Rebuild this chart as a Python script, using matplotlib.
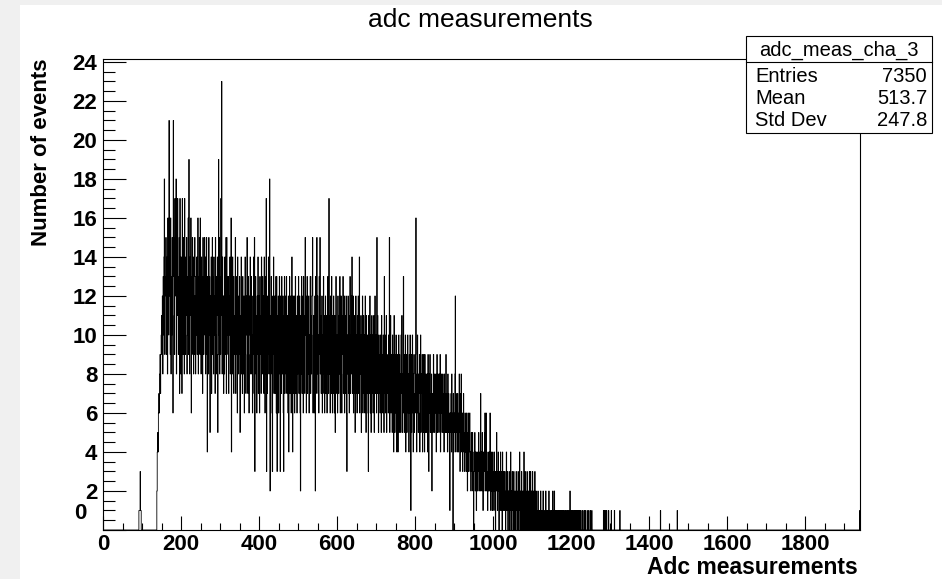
import numpy as np
import matplotlib

matplotlib.use("Agg")
import matplotlib.pyplot as plt
from matplotlib.lines import Line2D
from matplotlib.patches import Rectangle
from matplotlib.ticker import FuncFormatter, MultipleLocator

plt.rcParams["font.family"] = ["Liberation Sans", "DejaVu Sans"]
plt.rcParams["font.weight"] = "bold"

# counts per 1-unit bin (bins 90..1339)
seg_090 = [
    0, 0, 1, 1, 1, 3, 1, 1, 0, 0,
    0, 0, 0, 0, 0, 0, 0, 0, 0, 0,
    0, 0, 0, 0, 0, 0, 0, 0, 0, 0,
    0, 0, 0, 0, 0, 0, 0, 0, 0, 0,
    0, 0, 0, 0, 0, 0, 0, 0, 2, 4,
]
seg_140 = [
    5, 4, 6, 7, 6, 8, 9, 7, 9, 10,
    11, 9, 12, 8, 13, 10, 14, 18, 9, 12,
    13, 15, 9, 12, 14, 8, 16, 13, 10, 21,
    12, 14, 9, 16, 8, 13, 10, 15, 11, 6,
    21, 13, 15, 9, 17, 12, 14, 18, 8, 16,
    11, 17, 13, 9, 12, 15, 7, 17, 13, 8,
    14, 10, 7, 17, 13, 9, 15, 12, 8, 17,
    13, 9, 14, 11, 15, 8, 10, 13, 16, 9,
    19, 12, 8, 14, 11, 16, 6, 13, 9, 15,
    11, 14, 8, 12, 9, 15, 13, 8, 12, 10,
]
seg_240 = [
    14, 9, 12, 16, 8, 13, 11, 15, 9, 16,
    12, 8, 14, 10, 13, 7, 15, 11, 9, 13,
    15, 10, 14, 8, 12, 15, 9, 4, 13, 11,
    8, 15, 10, 13, 5, 12, 9, 14, 7, 12,
    15, 9, 13, 8, 14, 10, 12, 7, 15, 10,
    8, 13, 11, 14, 5, 9, 19, 10, 15, 8,
    13, 9, 17, 11, 23, 8, 14, 10, 12, 7,
    12, 8, 14, 9, 11, 15, 7, 15, 10, 13,
    9, 13, 7, 12, 10, 14, 8, 11, 16, 4,
    12, 8, 14, 10, 13, 7, 11, 9, 13, 15,
]
seg_340 = [
    7, 13, 9, 12, 6, 14, 10, 8, 12, 9,
    13, 5, 11, 9, 14, 8, 12, 7, 13, 10,
    8, 12, 6, 11, 14, 9, 7, 12, 10, 15,
    11, 7, 13, 9, 6, 12, 10, 14, 8, 11,
    13, 8, 10, 6, 12, 9, 14, 7, 15, 3,
    10, 13, 8, 11, 6, 12, 9, 14, 7, 10,
    12, 6, 13, 9, 11, 7, 14, 10, 8, 13,
    9, 12, 7, 14, 10, 6, 13, 8, 17, 3,
    11, 7, 12, 9, 14, 8, 10, 18, 2, 11,
    8, 13, 10, 6, 3, 12, 9, 14, 7, 11,
]
seg_440 = [
    12, 7, 10, 13, 6, 13, 3, 11, 8, 12,
    6, 11, 13, 8, 3, 12, 9, 7, 13, 10,
    8, 12, 6, 3, 11, 13, 7, 10, 12, 8,
    13, 7, 11, 9, 6, 12, 4, 10, 13, 7,
    9, 12, 6, 11, 14, 8, 4, 12, 7, 10,
    12, 6, 10, 13, 7, 9, 11, 6, 12, 8,
    10, 13, 7, 9, 12, 6, 2, 11, 8, 13,
    7, 10, 12, 6, 13, 9, 11, 7, 15, 10,
    12, 6, 9, 13, 7, 11, 8, 12, 6, 10,
    9, 13, 7, 11, 8, 12, 13, 15, 6, 10,
]
seg_540 = [
    11, 6, 9, 12, 2, 13, 7, 10, 15, 8,
    12, 7, 10, 6, 13, 9, 15, 8, 11, 7,
    9, 12, 6, 10, 8, 13, 7, 11, 6, 10,
    12, 7, 9, 11, 6, 10, 13, 8, 7, 17,
    8, 11, 6, 12, 9, 7, 13, 10, 6, 11,
    7, 12, 9, 6, 11, 5, 10, 13, 8, 7,
    10, 6, 12, 9, 7, 11, 8, 13, 6, 9,
    12, 8, 6, 11, 9, 13, 7, 10, 12, 6,
    9, 11, 7, 12, 6, 3, 10, 8, 12, 7,
    11, 6, 9, 13, 7, 10, 8, 12, 14, 7,
]
seg_640 = [
    9, 12, 6, 10, 7, 11, 5, 9, 12, 7,
    10, 6, 11, 8, 12, 7, 9, 14, 6, 10,
    8, 11, 5, 10, 7, 12, 6, 9, 11, 7,
    10, 6, 12, 8, 5, 11, 9, 7, 10, 6,
    3, 11, 7, 9, 12, 6, 10, 5, 8, 11,
    7, 10, 6, 9, 11, 5, 8, 12, 7, 9,
    10, 6, 15, 7, 11, 8, 5, 10, 7, 9,
    6, 10, 8, 5, 11, 7, 9, 6, 10, 8,
    5, 13, 7, 10, 6, 9, 11, 5, 8, 7,
    9, 6, 10, 7, 15, 5, 8, 11, 6, 9,
]
seg_740 = [
    8, 5, 10, 6, 9, 4, 11, 7, 5, 9,
    6, 10, 7, 4, 9, 6, 4, 8, 10, 5,
    9, 6, 8, 5, 10, 7, 11, 5, 8, 6,
    13, 7, 5, 9, 6, 10, 4, 8, 9, 5,
    7, 10, 6, 8, 4, 9, 6, 10, 5, 1,
    9, 5, 7, 10, 6, 4, 8, 9, 5, 7,
    6, 9, 16, 7, 4, 8, 10, 6, 5, 8,
    7, 9, 4, 6, 10, 5, 8, 7, 9, 4,
    8, 5, 9, 6, 4, 9, 7, 5, 8, 6,
    5, 8, 4, 9, 7, 3, 8, 6, 9, 5,
]
seg_840 = [
    7, 5, 8, 2, 6, 7, 5, 9, 6, 8,
    5, 7, 6, 8, 4, 7, 9, 5, 6, 8,
    7, 5, 8, 6, 9, 4, 7, 6, 8, 5,
    6, 8, 5, 7, 4, 8, 6, 5, 7, 9,
    5, 7, 6, 4, 8, 5, 7, 6, 4, 1,
    6, 5, 7, 4, 8, 6, 5, 0, 7, 4,
    6, 5, 8, 12, 4, 7, 5, 6, 4, 7,
    5, 4, 6, 8, 5, 3, 7, 4, 8, 5,
    4, 6, 3, 5, 7, 4, 5, 3, 6, 4,
    5, 3, 6, 4, 2, 5, 6, 3, 4, 5,
]
seg_940 = [
    6, 3, 4, 2, 5, 3, 4, 5, 2, 3,
    0, 4, 3, 5, 2, 4, 3, 1, 4, 3,
    2, 4, 3, 5, 2, 3, 4, 2, 7, 3,
    4, 2, 5, 3, 1, 4, 2, 3, 5, 6,
    3, 2, 6, 4, 2, 3, 1, 4, 2, 3,
    4, 2, 6, 3, 1, 4, 2, 3, 1, 4,
    2, 3, 1, 4, 2, 3, 0, 2, 3, 5,
    2, 1, 3, 4, 2, 0, 3, 1, 2, 4,
    1, 3, 2, 0, 4, 1, 2, 3, 1, 2,
    3, 1, 0, 2, 4, 1, 3, 2, 0, 2,
]
seg_1040 = [
    1, 3, 0, 2, 1, 4, 0, 2, 1, 3,
    2, 0, 1, 3, 1, 0, 2, 1, 0, 3,
    1, 2, 0, 1, 3, 0, 2, 1, 4, 0,
    2, 1, 0, 3, 1, 0, 2, 0, 1, 4,
    0, 1, 3, 0, 2, 1, 0, 3, 1, 0,
    2, 0, 1, 3, 0, 1, 3, 0, 2, 1,
    0, 3, 1, 0, 2, 0, 1, 3, 0, 1,
    2, 0, 1, 0, 1, 2, 0, 0, 1, 0,
    1, 0, 2, 0, 1, 0, 0, 1, 2, 0,
    1, 0, 0, 1, 0, 2, 1, 0, 0, 1,
]
seg_1140 = [
    0, 1, 0, 2, 0, 1, 0, 0, 1, 0,
    1, 0, 0, 2, 1, 0, 0, 2, 0, 1,
    0, 0, 1, 0, 1, 0, 0, 1, 0, 0,
    1, 0, 0, 1, 0, 1, 0, 0, 1, 0,
    0, 1, 0, 0, 1, 0, 1, 0, 0, 1,
    0, 1, 0, 0, 1, 0, 1, 2, 0, 0,
    1, 0, 0, 1, 0, 1, 0, 0, 1, 0,
    0, 1, 0, 1, 0, 0, 1, 0, 0, 1,
    0, 0, 1, 0, 1, 0, 0, 0, 1, 0,
    1, 0, 0, 0, 1, 0, 1, 0, 0, 0,
]
seg_1240 = [
    0, 1, 0, 0, 0, 1, 0, 0, 0, 1,
    0, 0, 0, 1, 0, 0, 0, 0, 0, 0,
    0, 0, 0, 0, 0, 0, 0, 0, 0, 0,
    0, 0, 0, 0, 0, 0, 0, 0, 0, 0,
    0, 0, 0, 1, 0, 0, 1, 0, 0, 1,
    0, 1, 0, 0, 0, 0, 1, 0, 0, 0,
    0, 0, 0, 1, 0, 0, 0, 0, 0, 0,
    0, 1, 0, 0, 0, 0, 0, 0, 0, 0,
    0, 0, 0, 0, 0, 1, 0, 0, 0, 0,
    0, 0, 0, 0, 0, 0, 0, 0, 0, 0,
]
# isolated entries further out
tail_bins = [1429, 1472, 1940]
tail_counts = [1, 1, 1]

stats_name = "adc_meas_cha_3"
stats_rows = [("Entries", "7350"), ("Mean", "513.7"), ("Std Dev", "247.8")]

n_bins = 1941
first_bin = 90
main = np.concatenate([seg_090, seg_140, seg_240, seg_340, seg_440, seg_540,
                       seg_640, seg_740, seg_840, seg_940, seg_1040, seg_1140,
                       seg_1240])
counts = np.zeros(n_bins)
counts[first_bin:first_bin + len(main)] = main
counts[tail_bins] = tail_counts
edges = np.arange(n_bins + 1)

W, H = 942, 579
fig = plt.figure(figsize=(W / 100, H / 100), dpi=100, facecolor="#f0f0f0")
fig.patches.append(Rectangle((20 / W, 0), 1 - 20 / W, 1 - 5 / H,
                             transform=fig.transFigure, facecolor="white",
                             edgecolor="none", zorder=-1))

ax = fig.add_axes([103 / W, 1 - 530 / H, (860 - 103) / W, (530 - 59) / H])
ax.stairs(counts, edges, color="black", linewidth=0.6)
ax.set_xlim(0, n_bins)
ax.set_ylim(0, 24.15)

ax.xaxis.set_major_locator(MultipleLocator(200))
ax.xaxis.set_minor_locator(MultipleLocator(50))
ax.yaxis.set_major_locator(MultipleLocator(2))
ax.yaxis.set_minor_locator(MultipleLocator(0.5))
# the y "0" is drawn separately, lifted off the corner like ROOT does
ax.yaxis.set_major_formatter(FuncFormatter(lambda v, p: "" if v == 0 else f"{v:g}"))
ax.tick_params(which="both", direction="in", top=False, right=False,
               width=0.8, labelsize=16)
ax.tick_params(axis="x", which="major", length=10, pad=3)
ax.tick_params(axis="x", which="minor", length=5)
ax.tick_params(axis="y", which="major", length=16.5, pad=4)
ax.tick_params(axis="y", which="minor", length=8.5)
for s in ax.spines.values():
    s.set_linewidth(0.8)
ax.annotate("0", xy=(0, 0), xycoords="axes fraction", xytext=(-12, 12),
            textcoords="offset points", ha="right", va="center", fontsize=16)

fig.text(480 / W, 1 - 20 / H, "adc measurements", ha="center", va="center",
         fontsize=19, fontweight="normal")
fig.text(42 / W, 1 - 58 / H, "Number of events", rotation=90, ha="center",
         va="top", fontsize=16)
fig.text(858 / W, 1 - 567 / H, "Adc measurements", ha="right", va="center",
         fontsize=16.5)

# stats box
bx0, bx1 = 746 / W, 932 / W
by0, by1 = 1 - 133 / H, 1 - 36 / H
fig.patches.append(Rectangle((bx0, by0), bx1 - bx0, by1 - by0,
                             transform=fig.transFigure, facecolor="white",
                             edgecolor="black", linewidth=0.8, zorder=5))
fig.lines.append(Line2D([bx0, bx1], [1 - 62 / H] * 2, transform=fig.transFigure,
                        color="black", linewidth=0.8, zorder=6))
fig.text((bx0 + bx1) / 2, 1 - 50 / H, stats_name, ha="center", va="center",
         fontsize=14.5, fontweight="normal", zorder=7)
for i, (name, val) in enumerate(stats_rows):
    y = 1 - (77 + 22 * i) / H
    fig.text(755 / W, y, name, ha="left", va="center", fontsize=14.5,
             fontweight="normal", zorder=7)
    fig.text(927 / W, y, val, ha="right", va="center", fontsize=14.5,
             fontweight="normal", zorder=7)

fig.savefig("out.png", dpi=100, facecolor=fig.get_facecolor())
